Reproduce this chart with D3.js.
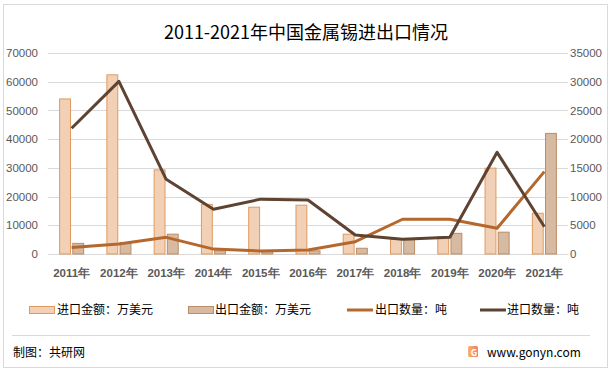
<!DOCTYPE html>
<html lang="zh">
<head>
<meta charset="UTF-8">
<title>2011-2021年中国金属锡进出口情况</title>
<script src="https://d3js.org/d3.v7.min.js"></script>
<style>
  body { margin: 0; background: #fff; }
  svg { display: block; font-family: "Noto Sans CJK SC", "Noto Sans", sans-serif; }
  .tick text { font-size: 11.5px; fill: #595959; }
</style>
</head>
<body>
<svg width="615" height="372"></svg>
<script>
// data
const years = ["2011年","2012年","2013年","2014年","2015年","2016年","2017年","2018年","2019年","2020年","2021年"];
const importValue = [54000, 62400, 29300, 17300, 16300, 17000, 6900, 5100, 6000, 29900, 14200];   // 万美元
const exportValue = [3700, 4000, 6900, 1100, 800, 1100, 2000, 4900, 7200, 7600, 42000];          // 万美元
const exportQty = [1150, 1750, 2900, 850, 520, 700, 2150, 6050, 6050, 4480, 14350];               // 吨
const importQty = [21900, 30050, 13000, 7800, 9550, 9400, 3300, 2550, 2900, 17700, 4750];         // 吨
const leftTicks = [0, 10000, 20000, 30000, 40000, 50000, 60000, 70000];
const rightTicks = [0, 5000, 10000, 15000, 20000, 25000, 30000, 35000];

const svg = d3.select("svg");
const plot = {left: 48, right: 568, top: 53, bottom: 254};

const x = d3.scaleBand().domain(years).range([plot.left, plot.right]).paddingInner(0.47).paddingOuter(0.235);
const xs = d3.scaleBand().domain(["imp", "exp"]).range([0, x.bandwidth()]).paddingInner(0.1);
const yL = d3.scaleLinear().domain([0, 70000]).range([plot.bottom, plot.top]);
const yR = d3.scaleLinear().domain([0, 35000]).range([plot.bottom, plot.top]);
const cx = d => x(d) + x.bandwidth() / 2;

// outer frame
svg.append("rect").attr("x", 3.5).attr("y", 4.5).attr("width", 604).attr("height", 363)
  .attr("fill", "none").attr("stroke", "#d9d9d9");

// title
svg.append("text").attr("x", 306).attr("y", 39).attr("text-anchor", "middle")
  .attr("font-size", 18).attr("fill", "#000").text("2011-2021年中国金属锡进出口情况");

// grid
svg.append("g").selectAll("line").data(leftTicks.slice(1)).join("line")
  .attr("x1", plot.left).attr("x2", plot.right)
  .attr("y1", d => Math.round(yL(d)) + 0.5).attr("y2", d => Math.round(yL(d)) + 0.5)
  .attr("stroke", "#d9d9d9");

// axes
svg.append("g").attr("transform", `translate(${plot.left - 10},0)`)
  .call(d3.axisLeft(yL).tickValues(leftTicks).tickFormat(d3.format("d")).tickSize(0).tickPadding(0))
  .call(g => g.select(".domain").remove());
svg.append("g").attr("transform", `translate(${plot.right + 2},0)`)
  .call(d3.axisRight(yR).tickValues(rightTicks).tickFormat(d3.format("d")).tickSize(0).tickPadding(0))
  .call(g => g.select(".domain").remove());

svg.append("line").attr("x1", plot.left).attr("x2", plot.right)
  .attr("y1", plot.bottom + 0.5).attr("y2", plot.bottom + 0.5).attr("stroke", "#d9d9d9");

svg.append("g").attr("transform", `translate(0,${plot.bottom})`)
  .call(d3.axisBottom(x).tickSize(0).tickPadding(15))
  .call(g => g.select(".domain").remove())
  .selectAll("text").attr("font-size", 12).attr("font-weight", "bold").attr("fill", "#000");

// bars
svg.append("g").selectAll("rect").data(years).join("rect")
  .attr("x", d => x(d) + xs("imp") + 0.5)
  .attr("y", (d, i) => yL(importValue[i]))
  .attr("width", xs.bandwidth() - 1)
  .attr("height", (d, i) => plot.bottom - yL(importValue[i]))
  .attr("fill", "#f2d0b5").attr("stroke", "#df9a5e").attr("stroke-width", 1);

svg.append("g").selectAll("rect").data(years).join("rect")
  .attr("x", d => x(d) + xs("exp") + 0.5)
  .attr("y", (d, i) => yL(exportValue[i]))
  .attr("width", xs.bandwidth() - 1)
  .attr("height", (d, i) => plot.bottom - yL(exportValue[i]))
  .attr("fill", "#d7baa2").attr("stroke", "#bc8c66").attr("stroke-width", 1);

// lines
const line = d3.line().x((d, i) => cx(years[i])).y(d => yR(d));
svg.append("path").datum(exportQty).attr("d", line)
  .attr("fill", "none").attr("stroke", "#b5682d").attr("stroke-width", 3).attr("stroke-linejoin", "round");
svg.append("path").datum(importQty).attr("d", line)
  .attr("fill", "none").attr("stroke", "#5e4332").attr("stroke-width", 3).attr("stroke-linejoin", "round");

// legend
const lg = svg.append("g").attr("font-size", 12).attr("fill", "#000");
const ly = 310;
lg.append("rect").attr("x", 29.5).attr("y", ly - 3.5).attr("width", 25).attr("height", 7)
  .attr("fill", "#f2d0b5").attr("stroke", "#df9a5e");
lg.append("text").attr("x", 57).attr("y", ly + 4).text("进口金额：万美元");
lg.append("rect").attr("x", 188.5).attr("y", ly - 3.5).attr("width", 25).attr("height", 7)
  .attr("fill", "#d7baa2").attr("stroke", "#bc8c66");
lg.append("text").attr("x", 215).attr("y", ly + 4).text("出口金额：万美元");
lg.append("line").attr("x1", 347).attr("x2", 373).attr("y1", ly).attr("y2", ly)
  .attr("stroke", "#b5682d").attr("stroke-width", 3);
lg.append("text").attr("x", 375).attr("y", ly + 4).text("出口数量：吨");
lg.append("line").attr("x1", 480).attr("x2", 506).attr("y1", ly).attr("y2", ly)
  .attr("stroke", "#5e4332").attr("stroke-width", 3);
lg.append("text").attr("x", 507).attr("y", ly + 4).text("进口数量：吨");

// footer
svg.append("line").attr("x1", 12).attr("x2", 590).attr("y1", 335.5).attr("y2", 335.5).attr("stroke", "#d9d9d9");
svg.append("text").attr("x", 13).attr("y", 357).attr("font-size", 12).attr("fill", "#000").text("制图：共研网");
const grad = svg.append("defs").append("linearGradient").attr("id", "lg1").attr("x1", 0).attr("x2", 1);
grad.append("stop").attr("offset", 0).attr("stop-color", "#f7b36b");
grad.append("stop").attr("offset", 1).attr("stop-color", "#ee7f6b");
svg.append("rect").attr("x", 468).attr("y", 346).attr("width", 10).attr("height", 11).attr("rx", 1.5).attr("fill", "url(#lg1)");
svg.append("text").attr("x", 474).attr("y", 355.5).attr("font-size", 9).attr("font-weight", "bold")
  .attr("text-anchor", "middle").attr("fill", "#fff").text("G");
svg.append("text").attr("x", 487).attr("y", 357).attr("font-size", 12).attr("fill", "#000").text("www.gonyn.com");
</script>
</body>
</html>
